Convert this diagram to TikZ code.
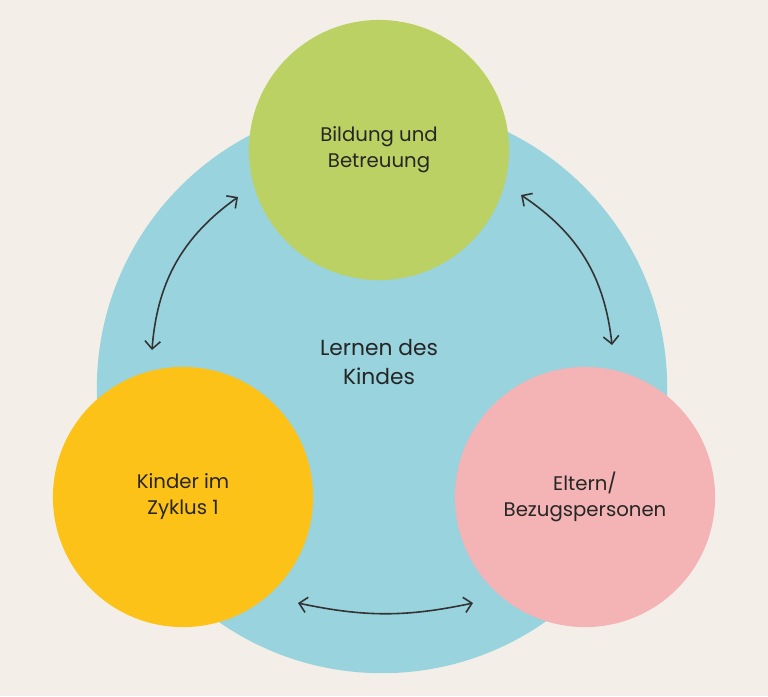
\documentclass[tikz,border=0pt]{standalone}
\usepackage{fontspec}
\setmainfont{Poppins}
\usetikzlibrary{arrows.meta}
\definecolor{bgbeige}{HTML}{F3EFE8}
\definecolor{lernblue}{HTML}{98D3DE}
\definecolor{bildgreen}{HTML}{BCD163}
\definecolor{kindyellow}{HTML}{FDC218}
\definecolor{elternpink}{HTML}{F4B3B4}
\tikzset{>={Straight Barb[length=2.2pt,width=4.4pt]}}
\tikzset{
  bubble/.style={circle, minimum size=2.6cm, inner sep=0pt, align=center,
    font=\fontsize{5.6}{7.4}\selectfont, text=black!85},
  link/.style={<->, line width=0.45pt, black!80}
}
\begin{document}
\begin{tikzpicture}[x=0.01cm, y=-0.01cm]
    \fill[bgbeige] (0,0) rectangle (768,696);
    \useasboundingbox (0,0) rectangle (768,696);

    % big circle
    \node[bubble, fill=lernblue, minimum size=5.7cm] (lernen) at (382,388) {};
    \node[font=\fontsize{6.2}{8}\selectfont, align=center, text=black!85] (lerntext) at (379,362) {Lernen des\\Kindes};

    % three circles
    \node[bubble, fill=bildgreen] (bildung) at (379,150) {Bildung und\\Betreuung};
    \node[bubble, fill=kindyellow] (kinder) at (183,497) {Kinder im\\Zyklus 1};
    \node[bubble, fill=elternpink] (eltern) at (585,497) {Eltern/\\Bezugspersonen};

    % arrows
    \coordinate (a1) at (238,197);
    \coordinate (a2) at (152,350);
    \coordinate (b1) at (521,195);
    \coordinate (b2) at (612,345);
    \coordinate (c1) at (298,603);
    \coordinate (c2) at (473,603);
    \draw[link] (a1) to[bend right=25] (a2);
    \draw[link] (b1) to[bend left=25] (b2);
    \draw[link] (c1) to[bend right=12] (c2);
\end{tikzpicture}
\end{document}
